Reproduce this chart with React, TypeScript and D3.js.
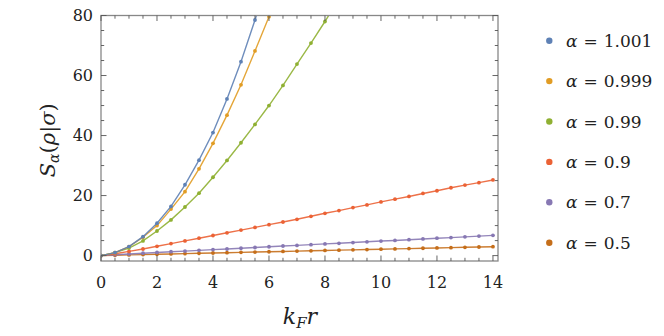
import React from "react";
import * as d3 from "d3";

const xs: number[] = d3.range(0, 14.001, 0.5);

const seriesLabels: string[] = ["1.001", "0.999", "0.99", "0.9", "0.7", "0.5"];
const seriesColors: string[] = ["#5E81B5", "#E19C24", "#8FB032", "#EB6235", "#8778B3", "#C56E1A"];

const yAlpha1001: number[] = [0, 1.0, 3.0, 6.3, 10.8, 16.4, 23.6, 31.8, 41.0, 52.2, 64.6, 78.5, 93.5];
const yAlpha0999: number[] = [0, 1.0, 3.0, 6.1, 10.0, 15.5, 21.3, 28.9, 37.4, 46.8, 56.9, 68.2, 79.6, 92.5];
const yAlpha099: number[] = [0, 1.0, 2.5, 4.9, 8.2, 11.9, 16.2, 20.8, 26.1, 31.7, 37.6, 43.7, 50.0, 56.7, 63.8, 70.8, 78.0, 85.6];
const yAlpha09: number[] = [0, 0.6, 1.4, 2.2, 3.1, 4.0, 4.9, 5.8, 6.7, 7.6, 8.5, 9.4, 10.3, 11.2, 12.1, 13.1, 14.1, 15.0, 16.0, 16.9, 17.9, 18.8, 19.7, 20.7, 21.6, 22.6, 23.5, 24.3, 25.2];
const yAlpha07: number[] = [0, 0.3, 0.55, 0.8, 1.05, 1.3, 1.5, 1.75, 2.0, 2.2, 2.45, 2.7, 2.95, 3.2, 3.4, 3.65, 3.9, 4.1, 4.35, 4.6, 4.85, 5.05, 5.3, 5.55, 5.8, 6.0, 6.25, 6.5, 6.75];
const yAlpha05: number[] = [0, 0.12, 0.23, 0.34, 0.45, 0.55, 0.66, 0.76, 0.87, 0.97, 1.08, 1.18, 1.29, 1.39, 1.5, 1.6, 1.71, 1.81, 1.92, 2.02, 2.13, 2.23, 2.34, 2.44, 2.55, 2.65, 2.76, 2.86, 2.97];

const seriesValues: number[][] = [yAlpha1001, yAlpha0999, yAlpha099, yAlpha09, yAlpha07, yAlpha05];

const xTickLabels: number[] = [0, 2, 4, 6, 8, 10, 12, 14];
const yTickLabels: number[] = [0, 20, 40, 60, 80];

const W = 664, H = 336;
const L = 101, R = 498, T = 15.5, B = 261;
const FONT = "DejaVu Serif";

export default function App() {
  const x = d3.scaleLinear().domain([0, 14.18]).range([L, R]);
  const y = d3.scaleLinear().domain([-1.8, 80]).range([B, T]);
  const line = d3.line<[number, number]>().x(d => x(d[0])).y(d => y(d[1]));

  const xMinor = d3.range(0, 14.01, 0.5);
  const yMinor = d3.range(0, 80.01, 5);
  const frameColor = "#888";
  const tickColor = "#555";

  const order = [5, 4, 3, 2, 1, 0];
  const ts: React.CSSProperties = { fontFamily: FONT };

  return (
    <svg width={W} height={H} style={{ position: "absolute", left: 0, top: 0, background: "#fff", fontFamily: FONT }}>
      <defs>
        <clipPath id="plotclip">
          <rect x={L} y={T} width={R - L} height={B - T} />
        </clipPath>
      </defs>
      <g clipPath="url(#plotclip)">
        {order.map(i => {
          const pts: [number, number][] = seriesValues[i].map((v, j) => [xs[j], v]);
          return (
            <g key={i}>
              <path d={line(pts) || ""} fill="none" stroke={seriesColors[i]} strokeWidth={1.4} strokeOpacity={0.9} />
              {pts.map((p, j) => (
                <circle key={j} cx={x(p[0])} cy={y(p[1])} r={1.9} fill={seriesColors[i]} />
              ))}
            </g>
          );
        })}
      </g>
      <rect x={L} y={T} width={R - L} height={B - T} fill="none" stroke={frameColor} strokeWidth={1.3} />
      {xMinor.map((v, k) => {
        const major = Math.abs(v % 2) < 1e-6;
        const len = major ? 5.5 : 3.2;
        return (
          <g key={"xt" + k} stroke={tickColor} strokeWidth={0.9}>
            <line x1={x(v)} x2={x(v)} y1={B} y2={B - len} />
            <line x1={x(v)} x2={x(v)} y1={T} y2={T + len} />
          </g>
        );
      })}
      {yMinor.map((v, k) => {
        const major = Math.abs(v % 20) < 1e-6;
        const len = major ? 5.5 : 3.2;
        return (
          <g key={"yt" + k} stroke={tickColor} strokeWidth={0.9}>
            <line x1={L} x2={L + len} y1={y(v)} y2={y(v)} />
            <line x1={R} x2={R - len} y1={y(v)} y2={y(v)} />
          </g>
        );
      })}
      {xTickLabels.map(v => (
        <text key={"xl" + v} x={x(v)} y={288} textAnchor="middle" fontSize={16} fill="#222" style={ts}>{v}</text>
      ))}
      {yTickLabels.map(v => (
        <text key={"yl" + v} x={93} y={y(v) + 5.8} textAnchor="end" fontSize={16} fill="#222" style={ts}>{v}</text>
      ))}
      <text x={300} y={324} textAnchor="middle" fontSize={22} fill="#222" style={ts}>
        <tspan fontStyle="italic">k</tspan>
        <tspan fontStyle="italic" fontSize={15} dy={4}>F</tspan>
        <tspan fontStyle="italic" dy={-4}>r</tspan>
      </text>
      <text transform={`translate(55,${(T + B) / 2 + 2}) rotate(-90)`} textAnchor="middle" fontSize={21} fill="#222" style={ts}>
        <tspan fontStyle="italic">S</tspan>
        <tspan fontStyle="italic" fontSize={14} dy={4}>α</tspan>
        <tspan dy={-4}>(</tspan>
        <tspan fontStyle="italic">ρ</tspan>
        <tspan>|</tspan>
        <tspan fontStyle="italic">σ</tspan>
        <tspan>)</tspan>
      </text>
      {seriesLabels.map((lab, i) => {
        const cy = 40.7 + i * 40.4;
        return (
          <g key={"lg" + i}>
            <circle cx={549.3} cy={cy} r={3.2} fill={seriesColors[i]} />
            <text x={566} y={cy + 6} fontSize={17} fill="#222" style={ts}>
              <tspan fontStyle="italic">α</tspan>
              <tspan dx={6}>=</tspan>
              <tspan dx={6}>{lab}</tspan>
            </text>
          </g>
        );
      })}
    </svg>
  );
}
